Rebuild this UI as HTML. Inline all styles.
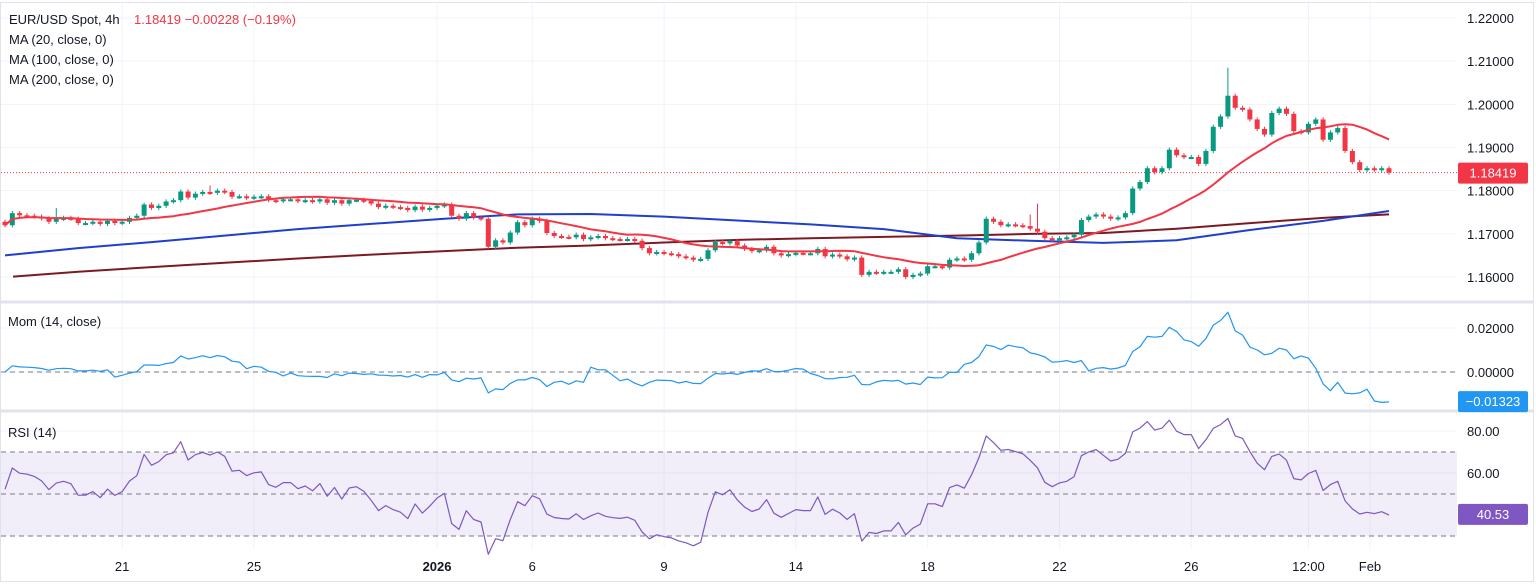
<!DOCTYPE html>
<html><head><meta charset="utf-8">
<style>
html,body{margin:0;padding:0;background:#fff;}
body{width:1536px;height:583px;overflow:hidden;font-family:"Liberation Sans",sans-serif;}
svg text{font-family:"Liberation Sans",sans-serif;}
</style></head>
<body>
<svg id="chart" width="1536" height="583" viewBox="0 0 1536 583" xmlns="http://www.w3.org/2000/svg">
  <rect x="0.5" y="2.5" width="1533" height="579" fill="#fff" stroke="#e0e3eb"/>
  <g id="grid"></g>
  <g id="bands"></g>
  <g id="marks"></g>
  <line x1="1" y1="302" x2="1534" y2="302" stroke="#e0e3eb" stroke-width="3"/>
  <line x1="1" y1="411" x2="1534" y2="411" stroke="#e0e3eb" stroke-width="3"/>
  <g id="axes"></g>
  <g font-size="13" fill="#131722">
    <text x="9" y="24">EUR/USD Spot, 4h</text>
    <text x="134" y="24" fill="#f23645">1.18419  −0.00228 (−0.19%)</text>
    <text x="9" y="44">MA (20, close, 0)</text>
    <text x="9" y="64">MA (100, close, 0)</text>
    <text x="9" y="84">MA (200, close, 0)</text>
    <text x="8" y="326">Mom (14, close)</text>
    <text x="8" y="437">RSI (14)</text>
  </g>
</svg>
<script>
const closes = [
1.1720,1.1748,1.1743,1.1742,1.1740,1.1736,1.1728,1.1735,1.1737,1.1735,1.1725,1.1725,1.1728,1.1723,1.1730,1.1725,1.1728,1.1737,1.1742,1.1768,
1.1760,1.1765,1.1775,1.1778,1.1798,1.1784,1.1793,1.1797,1.1795,1.1800,1.1797,1.1786,1.1787,1.1783,1.1786,1.1787,1.1778,1.1776,1.1780,1.1780,
1.1776,1.1778,1.1775,1.1780,1.1772,1.1778,1.1770,1.1778,1.1779,1.1776,1.1770,1.1762,1.1765,1.1762,1.1760,1.1755,1.1763,1.1756,1.1760,1.1765,
1.1768,1.1742,1.1735,1.1748,1.1738,1.1735,1.1670,1.1685,1.1680,1.1703,1.1727,1.1720,1.1735,1.1730,1.1702,1.1695,1.1693,1.1692,1.1698,1.1688,
1.1692,1.1695,1.1690,1.1688,1.1687,1.1688,1.1684,1.1667,1.1655,1.1658,1.1655,1.1653,1.1648,1.1645,1.1640,1.1642,1.1662,1.1681,1.1678,1.1683,
1.1673,1.1665,1.1660,1.1662,1.1670,1.1655,1.1650,1.1653,1.1656,1.1655,1.1655,1.1665,1.1648,1.1652,1.1648,1.1641,1.1645,1.1605,1.1612,1.1610,
1.1612,1.1612,1.1618,1.1600,1.1605,1.1608,1.1625,1.1625,1.1622,1.1640,1.1643,1.1640,1.1655,1.1680,1.1735,
1.1728,1.1720,1.1722,1.1720,1.1718,1.1712,1.1705,1.1690,1.1685,1.1690,1.1692,1.1698,1.1732,1.1740,1.1745,1.1740,1.1735,1.1738,1.1748,1.1805,
1.1820,1.1852,1.1843,1.1852,1.1895,1.1882,1.1878,1.1878,1.1862,1.1892,1.1948,1.1972,1.2020,1.1992,1.1988,1.1965,1.1943,1.1930,1.1980,1.1990,
1.1978,1.1938,1.1935,1.1955,1.1965,1.1918,1.1935,1.1945,1.1892,1.1866,1.1848,1.1852,1.1848,1.1852,1.1842];
const firstOpen = 1.1728;
const wickSize = 0.0005;
const highOverrides = {167:1.2085, 19:1.1772, 7:1.1760, 28:1.1812, 141:1.1770, 140:1.1745};
const ma100 = [1.1650,1.1667,1.1681,1.1696,1.1711,1.1723,1.1735,1.1745,1.1746,1.1740,1.1731,1.1722,1.1711,1.1690,1.1684,1.1679,1.1685,1.1709,1.1730,1.1753];
const ma200 = [1.1601,1.1612,1.1623,1.1633,1.1643,1.1652,1.1660,1.1668,1.1673,1.1680,1.1686,1.1690,1.1693,1.1696,1.1700,1.1702,1.1712,1.1725,1.1737,1.1745];
const rsiSeedGain = 0.00045, rsiSeedLoss = 0.00035;
const priceTicks = [1.16,1.17,1.18,1.19,1.20,1.21,1.22];
const momTicks = [0.02,0.00];
const rsiTicks = [80,60];
const rsiLevels = [70,50,30];
const dateLabels = ["21","25","2026","6","9","14","18","22","26","12:00","Feb"];
const dateIdx = [16,34,59,72,90,108,126,144,162,178,186.4];
const lastPriceLabel = "1.18419", lastMomLabel = "−0.01323", lastRsiLabel = "40.53";

const NS="http://www.w3.org/2000/svg";
const X0=5, X1=1389, N=closes.length, step=(X1-X0)/(N-1);
const xOf=i=>X0+i*step;
const yP=p=>18+(1.22-p)*4317;
const yM=v=>372-v*2200;
const yR=v=>431+(80-v)*2.1;
function mk(tag,attrs,parent){const e=document.createElementNS(NS,tag);for(const k in attrs)e.setAttribute(k,attrs[k]);parent.appendChild(e);return e;}
const grid=document.getElementById('grid'),marks=document.getElementById('marks'),axes=document.getElementById('axes'),bands=document.getElementById('bands');

priceTicks.forEach(t=>{const l=mk('line',{x1:1,x2:1457,y1:yP(t),y2:yP(t),stroke:'#f0f3fa'},grid);


const tx=mk('text',{x:1467,y:yP(t)+5,'font-size':13,fill:'#131722'},axes);tx.textContent=t.toFixed(5);

});
momTicks.forEach(t=>{const l=mk('line',{x1:1,x2:1457,y1:yM(t),y2:yM(t),stroke:'#f0f3fa'},grid);


const tx=mk('text',{x:1467,y:yM(t)+5,'font-size':13,fill:'#131722'},axes);tx.textContent=t.toFixed(5);

});
rsiTicks.forEach(t=>{const l=mk('line',{x1:1,x2:1457,y1:yR(t),y2:yR(t),stroke:'#f0f3fa'},grid);


const tx=mk('text',{x:1467,y:yR(t)+5,'font-size':13,fill:'#131722'},axes);tx.textContent=t.toFixed(2);

});
dateLabels.forEach((d,k)=>{const x=xOf(dateIdx[k]);
const l=mk('line',{x1:x,x2:x,y1:3,y2:548,stroke:'#f0f3fa'},grid);


const tx=mk('text',{x:x,y:571,'font-size':13,fill:'#131722','text-anchor':'middle','font-weight':d==="2026"?'bold':'normal'},axes);tx.textContent=d;

});

const band=mk('rect',{x:1,y:yR(70),width:1456,height:yR(30)-yR(70),fill:'rgba(126,87,194,0.1)'},bands);


rsiLevels.forEach(v=>{const l=mk('line',{x1:1,x2:1457,y1:yR(v),y2:yR(v),stroke:'#787b86','stroke-dasharray':'5,4'},bands);

});
const zl=mk('line',{x1:1,x2:1457,y1:yM(0),y2:yM(0),stroke:'#787b86','stroke-dasharray':'5,4'},bands);



function poly(pts,color,w,name){const p=mk('polyline',{points:pts.map(q=>q[0].toFixed(1)+','+q[1].toFixed(1)).join(' '),fill:'none',stroke:color,'stroke-width':w,'stroke-linejoin':'round'},marks);

return p;}
const sampleIdx=i=>Math.min(i*10,N-1);
poly(ma200.map((v,k)=>[k===0?13:xOf(sampleIdx(k)),yP(v)]),'#7b1a22',2,'ma200-line');
poly(ma100.map((v,k)=>[xOf(sampleIdx(k)),yP(v)]),'#1f3fcc',2,'ma100-line');

const pl=mk('line',{x1:1,x2:1457,y1:yP(1.18419),y2:yP(1.18419),stroke:'#f23645','stroke-dasharray':'1,2'},marks);



closes.forEach((c,i)=>{const o=i===0?firstOpen:closes[i-1];const up=c>=o;const col=up?'#089981':'#f23645';
const hi=highOverrides[i]!==undefined?highOverrides[i]:Math.max(o,c)+wickSize;const lo=Math.min(o,c)-wickSize;const x=xOf(i);
const w=mk('line',{x1:x,x2:x,y1:yP(hi),y2:yP(lo),stroke:col,'stroke-width':1},marks);


const top=yP(Math.max(o,c)),h=Math.max(2,yP(Math.min(o,c))-top);
const b=mk('rect',{x:x-2.5,y:top,width:5,height:h,fill:col},marks);

});

const ma20=closes.map((c,i)=>{const s=closes.slice(Math.max(0,i-19),i+1);return s.reduce((a,b)=>a+b,0)/s.length;});
poly(ma20.map((v,i)=>[xOf(i),yP(v)]),'#f23645',2,'ma20-line');

const mom=closes.map((c,i)=>c-closes[Math.max(0,i-14)]);
poly(mom.map((v,i)=>[xOf(i),yM(v)]),'#2196f3',1.2,'momentum-line');

const rsi=[];let ag=rsiSeedGain,al=rsiSeedLoss;
closes.forEach((c,i)=>{const d=i===0?c-firstOpen:c-closes[i-1];const g=Math.max(d,0),l=Math.max(-d,0);
ag=(ag*13+g)/14;al=(al*13+l)/14;
rsi.push(al===0?100:100-100/(1+ag/al));});
poly(rsi.map((v,i)=>[xOf(i),yR(v)]),'#7e57c2',1.2,'rsi-line');

function badge(y,color,txt,name){const r=mk('rect',{x:1458,y:y-10,width:70,height:21,rx:2,fill:color},axes);


const t=mk('text',{x:1493,y:y+5,'font-size':13,fill:'#fff','text-anchor':'middle'},axes);t.textContent=txt;

}
badge(yP(1.18419),'#f23645',lastPriceLabel,'last-price-label');
badge(yM(-0.01323),'#2196f3',lastMomLabel,'last-mom-label');
badge(yR(40.53),'#7e57c2',lastRsiLabel,'last-rsi-label');
</script>
</body></html>
